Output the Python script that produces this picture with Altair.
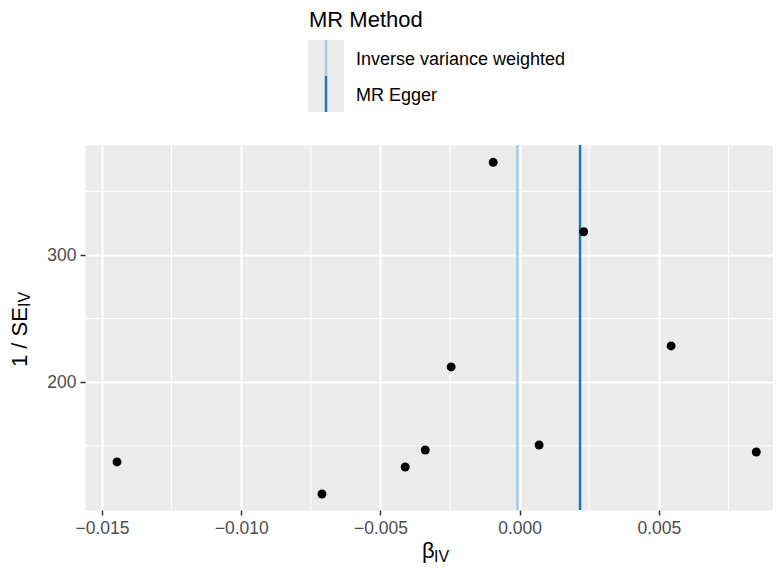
import altair as alt
import pandas as pd

# data
beta_iv = [-0.01446, -0.00710, -0.00411, -0.00339, -0.00246, -0.00095, 0.00070, 0.00230, 0.00544, 0.00850]
inv_se = [137.3, 112.1, 133.3, 146.7, 212.0, 372.9, 150.6, 318.3, 228.5, 145.1]
methods = ["Inverse variance weighted", "MR Egger"]
method_b = [-0.00008, 0.00217]
method_colors = ["#A6CEE3", "#1F78B4"]
x_ticks = [-0.015, -0.010, -0.005, 0.000, 0.005]
x_minor = [-0.0125, -0.0075, -0.0025, 0.0025, 0.0075]
y_ticks = [200, 300]
y_minor = [150, 250, 350]

FONT = "Liberation Sans"
x_dom = [-0.01561, 0.00910]
y_dom = [99.5, 386.5]

pts = pd.DataFrame({"b": beta_iv, "w": inv_se})
lines = pd.DataFrame({"method": methods, "b": method_b})
xm = pd.DataFrame({"b": x_minor})
ym = pd.DataFrame({"w": y_minor})
one = pd.DataFrame({"k": [0]})

xscale = alt.Scale(domain=x_dom, nice=False, zero=False)
yscale = alt.Scale(domain=y_dom, nice=False, zero=False)
xaxis = alt.Axis(values=x_ticks, format=".3f", title=None, grid=True,
                 labelExpr="replace(datum.label, '-', '\u2212')")
yaxis = alt.Axis(values=y_ticks, format="d", title=None, grid=True)
X = alt.X("b:Q", scale=xscale, axis=xaxis)
Y = alt.Y("w:Q", scale=yscale, axis=yaxis)
cscale = alt.Scale(domain=methods, range=method_colors)

minor_x = alt.Chart(xm).mark_rule(color="white", strokeWidth=1.1).encode(x=X)
minor_y = alt.Chart(ym).mark_rule(color="white", strokeWidth=1.1).encode(y=Y)

vlines = alt.Chart(lines).mark_rule(strokeWidth=2.5).encode(
    x=X, color=alt.Color("method:N", scale=cscale, legend=None))

points = alt.Chart(pts).mark_circle(size=80, color="black", opacity=1).encode(x=X, y=Y)

# legend drawn by hand (key background, keys, labels, title)
keybg = alt.Chart(one).mark_rect(color="#EBEBEB").encode(
    x=alt.value(223), x2=alt.value(259), y=alt.value(-105), y2=alt.value(-33))

legend_layers = []
for i, m in enumerate(methods):
    top = -105 + 36 * i
    legend_layers.append(
        alt.Chart(lines).transform_filter(alt.datum.method == m).mark_rule(strokeWidth=2.5).encode(
            x=alt.value(241), y=alt.value(top), y2=alt.value(top + 36),
            color=alt.Color("method:N", scale=cscale, legend=None)))
    legend_layers.append(
        alt.Chart(lines).transform_filter(alt.datum.method == m).mark_text(
            font=FONT, fontSize=18, color="black", align="left", baseline="middle").encode(
            x=alt.value(271), y=alt.value(top + 20), text="method:N"))


def txt(s, x, y, size, angle=0):
    return alt.Chart(one).mark_text(text=s, font=FONT, fontSize=size, color="black",
                                    align="left", baseline="alphabetic", angle=angle).encode(
        x=alt.value(x), y=alt.value(y))


legend_title = txt("MR Method", 224, -118, 22)
xt1 = txt("β", 337, 413, 22)
xt2 = txt("IV", 349, 417, 16)
yt1 = txt("1 / SE", -58, 222, 22, 270)
yt2 = txt("IV", -55, 162, 16, 270)

chart = alt.layer(keybg, minor_x, minor_y, vlines, points, *legend_layers,
                  legend_title, xt1, xt2, yt1, yt2).properties(
    width=688, height=365,
    padding={"left": 77, "top": 137, "right": 0, "bottom": 55},
    autosize=alt.AutoSizeParams(type="none"),
).configure(font=FONT).configure_view(
    fill="#EBEBEB", stroke="transparent"
).configure_axis(
    domain=False, tickColor="#333333", tickWidth=1.5, tickSize=5,
    labelColor="#4D4D4D", labelFont=FONT, labelFontSize=17.5, labelPadding=4,
    gridColor="white", gridWidth=2.1
)

chart.save("out.html", embed_options={"renderer": "svg", "actions": False})
